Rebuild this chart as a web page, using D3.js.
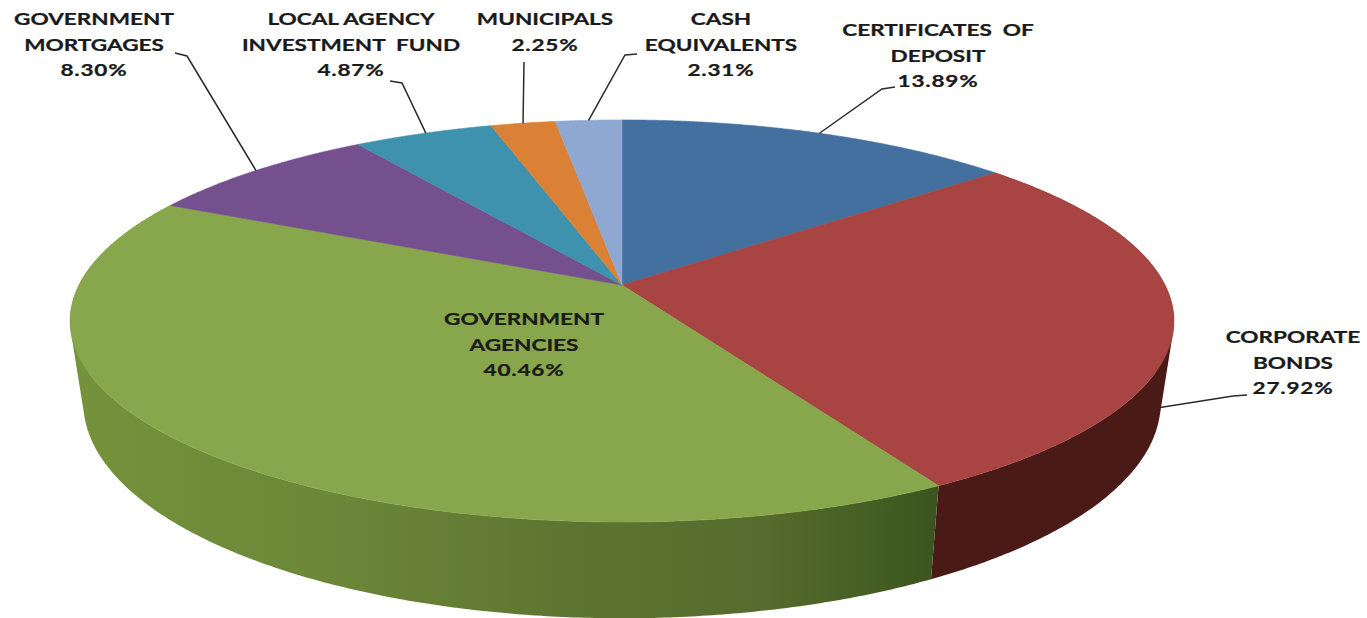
<!DOCTYPE html>
<html>
<head>
<meta charset="utf-8">
<script src="https://cdn.jsdelivr.net/npm/d3@7/dist/d3.min.js"></script>
<style>
  html, body { margin: 0; padding: 0; background: #fff; overflow: hidden; }
  text { font-family: Lato, "Open Sans", sans-serif; font-weight: 700; font-size: 17.5px; fill: #1a1a1a; stroke: #1a1a1a; stroke-width: 0.25; white-space: pre; text-anchor: middle; }
  tspan.pct { letter-spacing: 0.6px; }
</style>
</head>
<body>
<svg id="chart" width="1367" height="618"></svg>
<script>
// Portfolio allocation, clockwise from twelve o'clock.
const categories = [
  "Certificates of Deposit", "Corporate Bonds", "Government Agencies",
  "Government Mortgages", "Local Agency Investment Fund", "Municipals", "Cash Equivalents"
];
const shares = [13.89, 27.92, 40.46, 8.30, 4.87, 2.25, 2.31];
const labelLines = [
  ["CERTIFICATES  OF", "DEPOSIT"],
  ["CORPORATE", "BONDS"],
  ["GOVERNMENT", "AGENCIES"],
  ["GOVERNMENT", "MORTGAGES"],
  ["LOCAL AGENCY", "INVESTMENT  FUND"],
  ["MUNICIPALS"],
  ["CASH", "EQUIVALENTS"]
];
const topColors = ["#44709f", "#a84441", "#88a64b", "#75508e", "#3e92ad", "#da8136", "#8fa8d2"];

// Label placement: centre x, first baseline, and the leader's elbow points.
// "at" is the position along the slice's rim where the leader lands,
// "side" how far down the outer wall it lands.
const labelLayout = [
  { x: 938, y: 36, at: 0.5, leader: [[895, 87], [882, 89]] },
  { x: 1293, y: 343, side: 0.75, at: 0.567, leader: [[1247, 395], [1233, 396]] },
  { x: 524, y: 325 },
  { x: 94, y: 25, at: 0.5, leader: [[175, 53], [187, 56]] },
  { x: 351, y: 25, at: 0.52, leader: [[390, 81], [402, 83]] },
  { x: 545, y: 25, at: 0.5, leader: [[524, 62]] },
  { x: 721, y: 25, at: 0.5, leader: [[637, 54], [625, 55]] }
];

// Perspective model of the disc: (u, v) on the unit circle, v towards the viewer.
const apex = { x: 622, y: 285 };
const topA = 543, bottomA = 530, planeB = 194.6, lift = 79, persp = 0.179;
const labelStretch = 1.29;

const rim = (angle, depth) => {
  const u = Math.sin(angle), v = -Math.cos(angle);
  const s = 1 / (1 - persp * v);
  const a = topA + (bottomA - topA) * depth;
  return [apex.x + a * u * s, apex.y + (planeB * v + lift * depth) * s];
};

const pie = d3.pie().sort(null).value(d => d)(shares);
const svg = d3.select("#chart");
const line = d3.line();
const sampleAngles = (a0, a1) => {
  const n = Math.max(8, Math.ceil((a1 - a0) * 120));
  return d3.range(n + 1).map(i => a0 + (a1 - a0) * i / n);
};
const sampleArc = (a0, a1, depth) => sampleAngles(a0, a1).map(a => rim(a, depth));

// Outer wall as one quad per angular step, all wound the same way so the
// silhouette between the two rims stays filled under the nonzero rule.
const wallPath = (a0, a1) => {
  const angles = sampleAngles(a0, a1);
  return d3.pairs(angles).map(([p, q]) => {
    const quad = [rim(p, 0), rim(q, 0), rim(q, 1), rim(p, 1)];
    if (d3.polygonArea(quad) < 0) quad.reverse();
    return line(quad) + "Z";
  }).join("");
};

// Horizontal shading along the green wall.
const defs = svg.append("defs");
const wallGreen = defs.append("linearGradient")
  .attr("id", "wallGreen").attr("gradientUnits", "userSpaceOnUse")
  .attr("x1", 70).attr("x2", 940).attr("y1", 0).attr("y2", 0);
[[0, "#75923c"], [0.3, "#6c8738"], [0.55, "#5f7632"], [0.8, "#566b2d"], [0.93, "#445d22"], [1, "#3b5420"]]
  .forEach(([o, c]) => wallGreen.append("stop").attr("offset", o).attr("stop-color", c));
const wallFill = ["#3f4f6c", "#4a1a17", "url(#wallGreen)", "#4a3559", "#2d5c6c", "#8a5122", "#5a6a85"];

// Drawn first so the top face covers the hidden part of the wall.
svg.append("g").selectAll("path")
  .data(pie.filter(d => d.index === 1 || d.index === 2))
  .join("path")
  .attr("fill", d => wallFill[d.index])
  .attr("fill-rule", "nonzero")
  .attr("d", d => wallPath(d.startAngle, d.endAngle));

// Top face.
svg.append("g").selectAll("path")
  .data(pie)
  .join("path")
  .attr("fill", d => topColors[d.index])
  .attr("stroke", d => topColors[d.index])
  .attr("stroke-width", 0.6)
  .attr("d", d => line([[apex.x, apex.y], ...sampleArc(d.startAngle, d.endAngle, 0)]) + "Z");

// Leader lines from the labels to the slice rims.
svg.append("g").selectAll("path")
  .data(pie.filter(d => labelLayout[d.index].leader))
  .join("path")
  .attr("fill", "none")
  .attr("stroke", "#2b2b2b")
  .attr("stroke-width", 1.5)
  .attr("d", d => {
    const l = labelLayout[d.index];
    const angle = d.startAngle + (d.endAngle - d.startAngle) * l.at;
    return line([...l.leader, rim(angle, l.side || 0)]);
  });

// Labels: the name lines followed by the percentage, set wide.
const lineHeight = 25.6;
const labels = svg.append("g").selectAll("text")
  .data(pie)
  .join("text")
  .attr("aria-label", d => categories[d.index])
  .attr("transform", d => `translate(${labelLayout[d.index].x},${labelLayout[d.index].y}) scale(${labelStretch},1)`);
labels.selectAll("tspan")
  .data(d => {
    const names = labelLines[d.index].map((t, i) => ({ t, i, cls: null }));
    return [...names, { t: d3.format(".2f")(d.value) + "%", i: names.length, cls: "pct" }];
  })
  .join("tspan")
  .attr("class", d => d.cls)
  .attr("x", 0)
  .attr("y", d => d.i * lineHeight)
  .text(d => d.t);
</script>
</body>
</html>
